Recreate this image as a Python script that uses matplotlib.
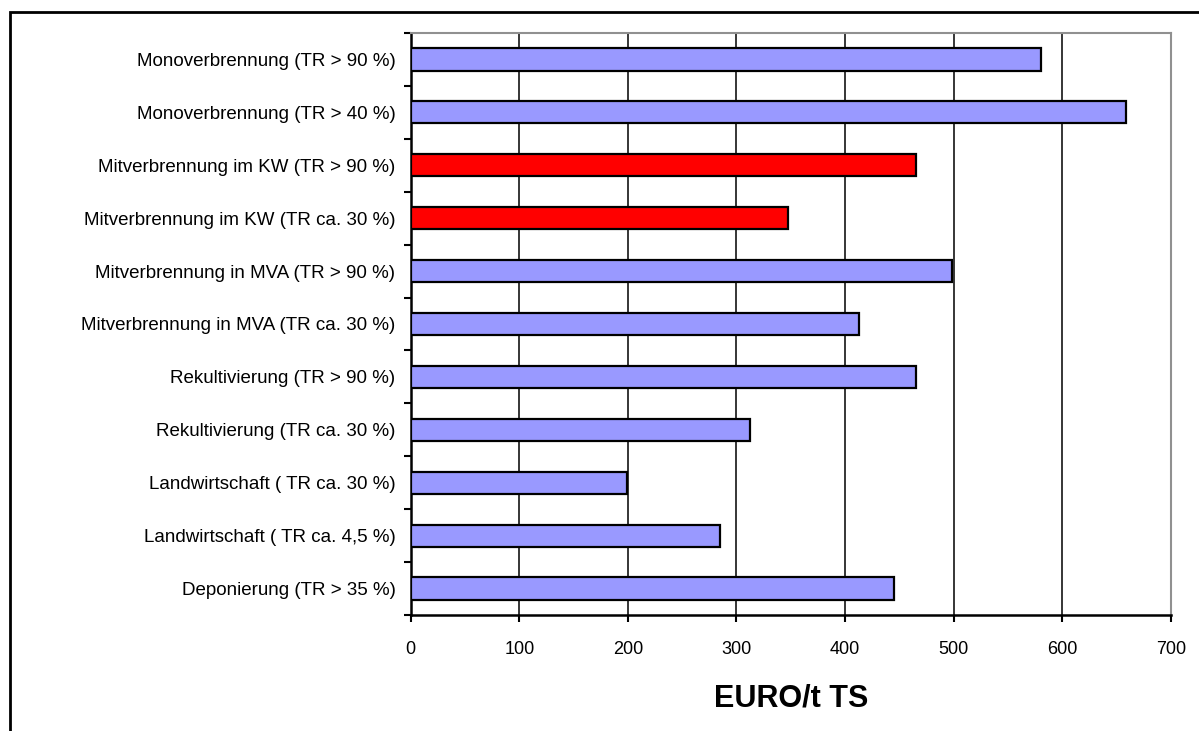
import matplotlib
matplotlib.use("Agg")
import matplotlib.pyplot as plt
from matplotlib.patches import Rectangle

plt.rcParams['font.family'] = ['Liberation Sans', 'DejaVu Sans']

# Kategorien von oben nach unten
kategorien = [
    "Monoverbrennung (TR > 90 %)",
    "Monoverbrennung (TR > 40 %)",
    "Mitverbrennung im KW (TR > 90 %)",
    "Mitverbrennung im KW (TR ca. 30 %)",
    "Mitverbrennung in MVA (TR > 90 %)",
    "Mitverbrennung in MVA (TR ca. 30 %)",
    "Rekultivierung (TR > 90 %)",
    "Rekultivierung (TR ca. 30 %)",
    "Landwirtschaft ( TR ca. 30 %)",
    "Landwirtschaft ( TR ca. 4,5 %)",
    "Deponierung (TR > 35 %)",
]
kosten = [580, 659, 465, 347, 498, 413, 465, 312, 199, 285, 445]
hervorgehoben = [False, False, True, True, False, False, False, False, False, False, False]
x_ticks = [0, 100, 200, 300, 400, 500, 600, 700]

fig = plt.figure(figsize=(11.99, 7.31), dpi=100)
ax = fig.add_axes([0.3425, 0.1587, 0.9766 - 0.3425, 0.9549 - 0.1587])

n = len(kategorien)
pos = [n - 1 - i for i in range(n)]
farben = ['#FF0000' if h else '#9999FF' for h in hervorgehoben]

ax.barh(pos, kosten, height=0.42, color=farben, edgecolor='black',
        linewidth=1.6, zorder=3)

ax.set_xlim(0, 700)
ax.set_ylim(-0.5, n - 0.5)
ax.set_xticks(x_ticks)
ax.set_xticklabels([str(v) for v in x_ticks], fontsize=13)

# Teilstriche an den Kategoriegrenzen, Beschriftung in der Mitte
ax.set_yticks([i - 0.5 for i in range(n + 1)])
ax.set_yticklabels([])
ax.set_yticks(pos, kategorien, minor=True)
ax.tick_params(axis='y', which='minor', length=0, labelsize=13.5, pad=11)
ax.tick_params(axis='y', which='major', length=5, width=1.5, direction='out')
ax.tick_params(axis='x', which='major', length=5, width=1.5, direction='out', pad=14)

ax.grid(axis='x', color='black', linewidth=1.1, zorder=0)
ax.set_axisbelow(True)

for s in ['left', 'bottom']:
    ax.spines[s].set_linewidth(1.8)
    ax.spines[s].set_color('black')
for s in ['top', 'right']:
    ax.spines[s].set_linewidth(1.5)
    ax.spines[s].set_color('#909090')

ax.set_xlabel('EURO/t TS', fontsize=22, fontweight='bold', labelpad=18)

# äußerer Rahmen (nur links und oben sichtbar)
fig.patches.append(Rectangle((10.5 / 1199, -0.1), 1.2, 1 - 12 / 731 + 0.1,
                             transform=fig.transFigure, fill=False,
                             edgecolor='black', linewidth=2))

fig.savefig('out.png', dpi=100)
